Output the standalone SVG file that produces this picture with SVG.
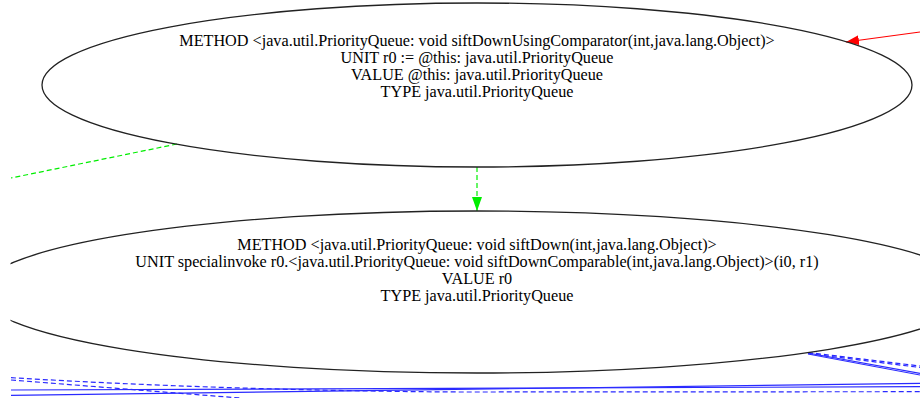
<svg xmlns="http://www.w3.org/2000/svg" width="920" height="398" viewBox="0 0 920 398">
<style>
.node ellipse{fill:none;stroke:#222;stroke-width:1.3}
.node text{font-family:"Liberation Serif","Times New Roman",serif;font-size:16.2px;fill:#000;text-anchor:middle}
.e{fill:none;stroke-width:1.2}
.blue{stroke:#2a2aff}
.green{stroke:#00ee00;stroke-dasharray:5,3}
.dash{stroke-dasharray:5,3}
</style>
<defs>
<clipPath id="vp"><rect x="10.5" y="0" width="910" height="398"/></clipPath>
<marker id="ar" markerWidth="13" markerHeight="10" refX="13" refY="5" orient="auto" markerUnits="userSpaceOnUse" viewBox="0 0 13 10"><path d="M0,0 L13,5 L0,10 Z" fill="#ff0000"/></marker>
<marker id="ag" markerWidth="14" markerHeight="10" refX="14" refY="5" orient="auto" markerUnits="userSpaceOnUse" viewBox="0 0 14 10"><path d="M0,0 L14,5 L0,10 Z" fill="#00ee00"/></marker>
</defs>
<rect width="920" height="398" fill="#fff"/>
<g clip-path="url(#vp)">
<g id="edges">
<path class="e" d="M920,32 L846,42" stroke="#ff0000" marker-end="url(#ar)"/>
<path class="e green" d="M177,144 L11,178"/>
<path class="e green" d="M477,167 L477,211" marker-end="url(#ag)"/>
<path class="e blue dash" d="M11,377.7 C150,386 300,391 460,392 L920,391.7"/>
<path class="e blue dash" d="M11,380 L240,398"/>
<path class="e blue" d="M11,390 L920,386.7"/>
<path class="e blue" d="M11,395.3 L920,383.3"/>
<path class="e blue dash" d="M808,352.5 L920,366"/>
<path class="e blue dash" d="M808,353.5 L920,367.5"/>
<path class="e blue" d="M808,353 L920,373.3"/>
<path class="e blue" d="M808,354 L920,375"/>
</g>
<g id="n1" class="node">
<ellipse cx="477" cy="85" rx="435" ry="82"/>
<text x="477" y="46">METHOD &lt;java.util.PriorityQueue: void siftDownUsingComparator(int,java.lang.Object)&gt;</text>
<text x="477" y="63">UNIT r0 := @this: java.util.PriorityQueue</text>
<text x="477" y="80">VALUE @this: java.util.PriorityQueue</text>
<text x="477" y="97">TYPE java.util.PriorityQueue</text>
</g>
<g id="n2" class="node">
<ellipse cx="477" cy="292" rx="498" ry="81"/>
<text x="477" y="250">METHOD &lt;java.util.PriorityQueue: void siftDown(int,java.lang.Object)&gt;</text>
<text x="477" y="267">UNIT specialinvoke r0.&lt;java.util.PriorityQueue: void siftDownComparable(int,java.lang.Object)&gt;(i0, r1)</text>
<text x="477" y="284">VALUE r0</text>
<text x="477" y="301">TYPE java.util.PriorityQueue</text>
</g>
</g>
</svg>
